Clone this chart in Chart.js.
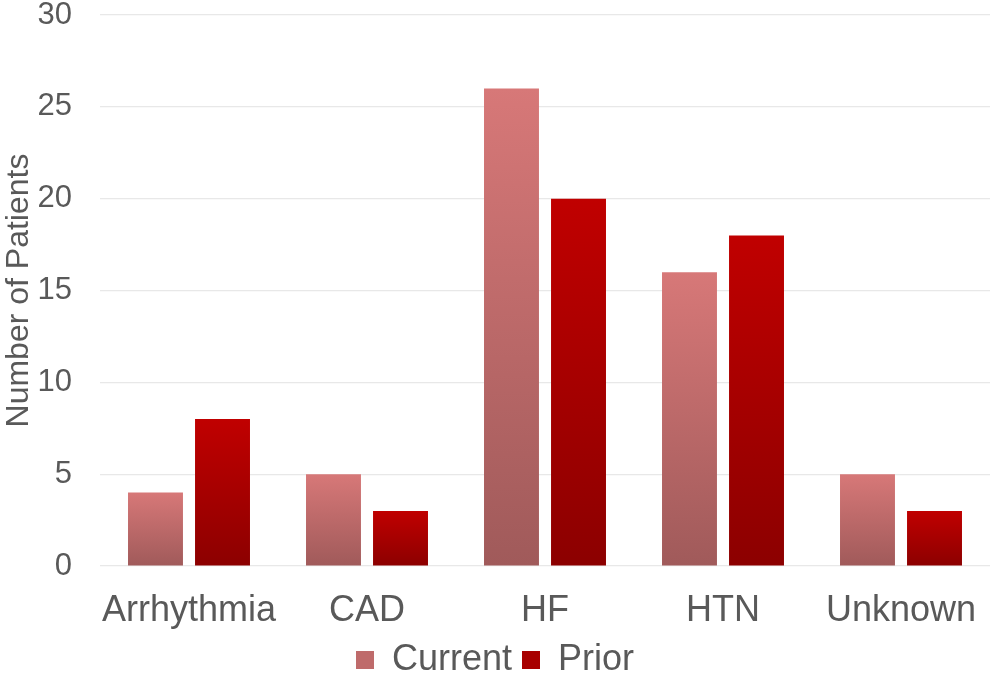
<!DOCTYPE html>
<html>
<head>
<meta charset="utf-8">
<script src="https://cdn.jsdelivr.net/npm/chart.js@4"></script>
<style>
  html, body { margin: 0; padding: 0; background: #fff; }
  #wrap { width: 992px; height: 673px; }
</style>
</head>
<body>
<div id="wrap"><canvas id="chart" width="992" height="673"></canvas></div>
<script>
const categories = ["Arrhythmia", "CAD", "HF", "HTN", "Unknown"]
const currentValues = [4, 5, 26, 16, 5]
const priorValues = [8, 3, 20, 18, 3]
const yTicks = [0, 5, 10, 15, 20, 25, 30]

const FONT = "'Liberation Sans', Arial, sans-serif"
const TEXT = "#595959"

// each bar gets its own top-to-bottom gradient
function barGradient(top, bottom) {
  return (ctx) => {
    const chart = ctx.chart
    const y = chart.scales.y
    if (!y || ctx.type !== "data") return top
    const v = ctx.parsed ? ctx.parsed.y : ctx.raw
    const y0 = y.getPixelForValue(v)
    const y1 = y.getPixelForValue(0)
    if (!isFinite(y0) || !isFinite(y1) || y0 === y1) return top
    const g = chart.ctx.createLinearGradient(0, y0, 0, y1)
    g.addColorStop(0, top)
    g.addColorStop(1, bottom)
    return g
  }
}

new Chart(document.getElementById("chart"), {
  type: "bar",
  data: {
    labels: categories,
    datasets: [
      {
        label: "Current",
        data: currentValues,
        backgroundColor: barGradient("#d77878", "#a05a5a"),
        borderWidth: 0,
        categoryPercentage: 0.753,
        barPercentage: 0.82,
      },
      {
        label: "Prior",
        data: priorValues,
        backgroundColor: barGradient("#c00000", "#8c0000"),
        borderWidth: 0,
        categoryPercentage: 0.753,
        barPercentage: 0.82,
      },
    ],
  },
  options: {
    responsive: false,
    animation: false,
    layout: { padding: { top: 15, right: 2, left: 0, bottom: -15 } },
    plugins: {
      tooltip: { enabled: false },
      legend: {
        position: "bottom",
        labels: {
          color: TEXT,
          font: { family: FONT, size: 36 },
          boxWidth: 18,
          boxHeight: 18,
          padding: 10,
          generateLabels: (chart) => [
            { text: "Current", fillStyle: "#bf6b6b", strokeStyle: "#bf6b6b", lineWidth: 0, datasetIndex: 0, fontColor: TEXT },
            { text: "Prior", fillStyle: "#a80000", strokeStyle: "#a80000", lineWidth: 0, datasetIndex: 1, fontColor: TEXT },
          ],
        },
      },
    },
    scales: {
      x: {
        grid: { display: false },
        border: { display: false },
        ticks: {
          color: TEXT,
          font: { family: FONT, size: 36, lineHeight: 1 },
          padding: 19,
          maxRotation: 0,
          minRotation: 0,
          autoSkip: false,
        },
        afterFit: (s) => {
          s.height = 66
          s.paddingLeft = 0
          s.paddingRight = 0
        },
      },
      y: {
        min: 0,
        max: 30,
        afterBuildTicks: (s) => { s.ticks = yTicks.map((v) => ({ value: v })) },
        afterFit: (s) => {
          s.width = 100
          s.paddingTop = 0
          s.paddingBottom = 0
        },
        grid: { color: "#e8e8e8", lineWidth: 1.2, drawTicks: false },
        border: { display: false },
        ticks: { color: TEXT, font: { family: FONT, size: 31 }, padding: 28 },
        title: {
          display: true,
          text: "Number of Patients",
          color: TEXT,
          font: { family: FONT, size: 32 },
          padding: 0,
        },
      },
    },
  },
})
</script>
</body>
</html>
